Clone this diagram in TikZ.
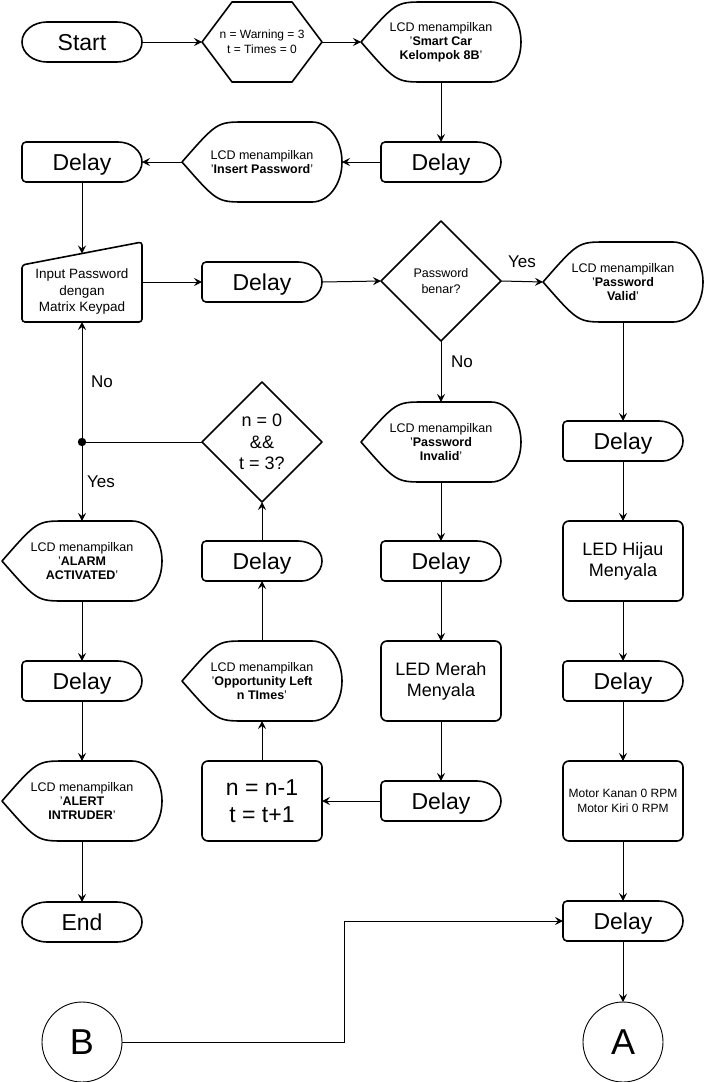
\documentclass[tikz,border=0pt]{standalone}
\usepackage{fontspec}
\setmainfont{Liberation Sans}
\usetikzlibrary{arrows.meta,calc}
\tikzset{
  nbase/.style={inner sep=0pt, outer sep=0pt, align=center},
  dispN/.style={nbase, minimum width=160pt, minimum height=80pt, font=\fontsize{12.5}{14}\selectfont},
  delayN/.style={nbase, minimum width=120pt, minimum height=40pt, text depth=0pt, font=\fontsize{23}{27}\selectfont},
  termN/.style={nbase, minimum width=120pt, minimum height=40pt, text depth=0pt, font=\fontsize{23}{27}\selectfont},
  boxN/.style={nbase, draw, line width=1.6pt, rounded corners=6pt, minimum width=120pt, minimum height=80pt},
  decN/.style={nbase, minimum width=120pt, minimum height=120pt},
  hexN/.style={nbase, minimum width=120pt, minimum height=80pt, font=\fontsize{12}{15}\selectfont},
  connN/.style={nbase, circle, draw, line width=0.9pt, minimum size=80pt, text depth=0pt, font=\fontsize{36}{40}\selectfont},
  outl/.style={draw, line width=1.6pt, line join=round},
  conn/.style={line width=1pt, -{Stealth[length=8pt,width=8pt,inset=3pt]}},
  plainline/.style={line width=1pt},
  labN/.style={inner sep=0pt, font=\fontsize{17}{20}\selectfont},
}
\newcommand\OutDisp[1]{\draw[outl,shift={(#1.center)}] (-80,0) .. controls (-45,-40) .. (-17,-40) -- (50,-40) .. controls (66.6,-40) and (80,-22.1) .. (80,0) .. controls (80,22.1) and (66.6,40) .. (50,40) -- (-17,40) .. controls (-45,40) .. (-80,0) -- cycle;}
\newcommand\OutDelay[1]{\draw[outl,shift={(#1.center)}] (36,-20) [rounded corners=4pt] -- (-60,-20) -- (-60,20) -- (36,20) [sharp corners] .. controls (49.3,20) and (60,11) .. (60,0) .. controls (60,-11) and (49.3,-20) .. (36,-20) -- cycle;}
\newcommand\OutTerm[1]{\draw[outl,shift={(#1.center)}] (-35,-20) -- (35,-20) .. controls (48.8,-20) and (60,-11) .. (60,0) .. controls (60,11) and (48.8,20) .. (35,20) -- (-35,20) .. controls (-48.8,20) and (-60,11) .. (-60,0) .. controls (-60,-11) and (-48.8,-20) .. (-35,-20) -- cycle;}
\newcommand\OutDiam[1]{\draw[outl,shift={(#1.center)}] (-60,0) -- (0,-60) -- (60,0) -- (0,60) -- cycle;}
\newcommand\OutHex[1]{\draw[outl,shift={(#1.center)}] (-60,0) -- (-30,-40) -- (30,-40) -- (60,0) -- (30,40) -- (-30,40) -- cycle;}
\newcommand\OutManual[1]{\draw[outl,shift={(#1.center)},rounded corners=3pt] (-60,-17) -- (60,-40) -- (60,40) -- (-60,40) -- cycle;}
\begin{document}
\begin{tikzpicture}[x=1pt,y=-1pt]
\useasboundingbox (0,0) rectangle (704,1082);
% row 1
\node[termN] (start) at (82,42) {Start};
\node[hexN] (init) at (262,42) {n = Warning = 3\\t = Times = 0};
\node[dispN] (lcd1) at (441,42) {LCD menampilkan\\'\textbf{Smart Car}\\\textbf{Kelompok 8B}'};
% row 2
\node[delayN] (dly0) at (441,162) {Delay};
\node[dispN] (lcd2) at (262,162) {LCD menampilkan\\'\textbf{Insert Password}'};
\node[delayN] (dly1) at (82,162) {Delay};
% row 3
\node[nbase, minimum width=120pt, minimum height=80pt] (inp) at (82,282) {};
\node[nbase, font=\fontsize{13.5}{16.5}\selectfont] (inptext) at (82,292) {Input Password\\dengan\\Matrix Keypad};
\coordinate (inTop) at (82,253.5);
\node[delayN] (dly2) at (262,282) {Delay};
\node[decN, font=\fontsize{12.5}{16.5}\selectfont] (dec1) at (441,281) {Password\\benar?};
\node[dispN] (lcd3) at (623,282) {LCD menampilkan\\'\textbf{Password}\\\textbf{Valid}'};
% row 4
\node[dispN] (lcd4) at (441,442) {LCD menampilkan\\'\textbf{Password}\\\textbf{Invalid}'};
\node[decN, font=\fontsize{18}{21.5}\selectfont] (dec2) at (262,442) {n = 0\\\&\&\\t = 3?};
\coordinate (dot) at (82,442);
\node[delayN] (dly3) at (623,441) {Delay};
% row 5
\node[dispN] (alarm) at (82,561) {LCD menampilkan\\'\textbf{ALARM}\\\textbf{ACTIVATED}'};
\node[delayN] (dly4) at (262,561) {Delay};
\node[delayN] (dly5) at (441,561) {Delay};
\node[boxN, font=\fontsize{18}{21}\selectfont] (ledH) at (623,561) {LED Hijau\\Menyala};
% row 6
\node[delayN] (dly6) at (82,681) {Delay};
\node[dispN] (opp) at (262,681) {LCD menampilkan\\'\textbf{Opportunity Left}\\\textbf{n TImes}'};
\node[boxN, font=\fontsize{18}{21}\selectfont] (ledM) at (441,681) {LED Merah\\Menyala};
\node[delayN] (dly7) at (623,681) {Delay};
% row 7
\node[dispN] (alert) at (82,801) {LCD menampilkan\\'\textbf{ALERT}\\\textbf{INTRUDER}'};
\node[boxN, font=\fontsize{23}{27}\selectfont] (upd) at (262,801) {n = n-1\\t = t+1};
\node[delayN] (dly8) at (441,801) {Delay};
\node[boxN, font=\fontsize{12}{15}\selectfont] (motor) at (623,801) {Motor Kanan 0 RPM\\Motor Kiri 0 RPM};
% row 8
\node[termN] (endn) at (82,922) {End};
\node[delayN] (dly9) at (623,921) {Delay};
% row 9
\node[connN] (B) at (82,1042) {B};
\node[connN] (A) at (623,1042) {A};
\coordinate (Bturn) at (344,1042);
% outlines
\OutTerm{start} \OutTerm{endn}
\OutHex{init}
\OutDisp{lcd1} \OutDisp{lcd2} \OutDisp{lcd3} \OutDisp{lcd4}
\OutDisp{alarm} \OutDisp{opp} \OutDisp{alert}
\OutDelay{dly0} \OutDelay{dly1} \OutDelay{dly2} \OutDelay{dly3} \OutDelay{dly4}
\OutDelay{dly5} \OutDelay{dly6} \OutDelay{dly7} \OutDelay{dly8} \OutDelay{dly9}
\OutDiam{dec1} \OutDiam{dec2}
\OutManual{inp}
% connectors
\draw[conn] (start.east) -- (init.west);
\draw[conn] (init.east) -- (lcd1.west);
\draw[conn] (lcd1.south) -- (dly0.north);
\draw[conn] (dly0.west) -- (lcd2.east);
\draw[conn] (lcd2.west) -- (dly1.east);
\draw[conn] (dly1.south) -- (inTop);
\draw[conn] (inp.east) -- (dly2.west);
\draw[conn] (dly2.east) -- (dec1.west);
\draw[conn] (dec1.east) -- (lcd3.west);
\draw[conn] (dec1.south) -- (lcd4.north);
\draw[conn] (lcd3.south) -- (dly3.north);
\draw[conn] (dly3.south) -- (ledH.north);
\draw[conn] (ledH.south) -- (dly7.north);
\draw[conn] (dly7.south) -- (motor.north);
\draw[conn] (motor.south) -- (dly9.north);
\draw[conn] (dly9.south) -- (A.north);
\draw[conn] (B.east) -- (Bturn) |- (dly9.west);
\draw[conn] (lcd4.south) -- (dly5.north);
\draw[conn] (dly5.south) -- (ledM.north);
\draw[conn] (ledM.south) -- (dly8.north);
\draw[conn] (dly8.west) -- (upd.east);
\draw[conn] (upd.north) -- (opp.south);
\draw[conn] (opp.north) -- (dly4.south);
\draw[conn] (dly4.north) -- (dec2.south);
\draw[plainline] (dec2.west) -- (dot);
\draw[conn] (dot) -- (inp.south);
\draw[conn] (dot) -- (alarm.north);
\draw[conn] (alarm.south) -- (dly6.north);
\draw[conn] (dly6.south) -- (alert.north);
\draw[conn] (alert.south) -- (endn.north);
\fill (dot) circle (4.2);
% labels
\node[labN] (yes1) at (522,262) {Yes};
\node[labN] (no1) at (462,362) {No};
\node[labN] (no2) at (102,382) {No};
\node[labN] (yes2) at (101,482) {Yes};
\end{tikzpicture}
\end{document}
